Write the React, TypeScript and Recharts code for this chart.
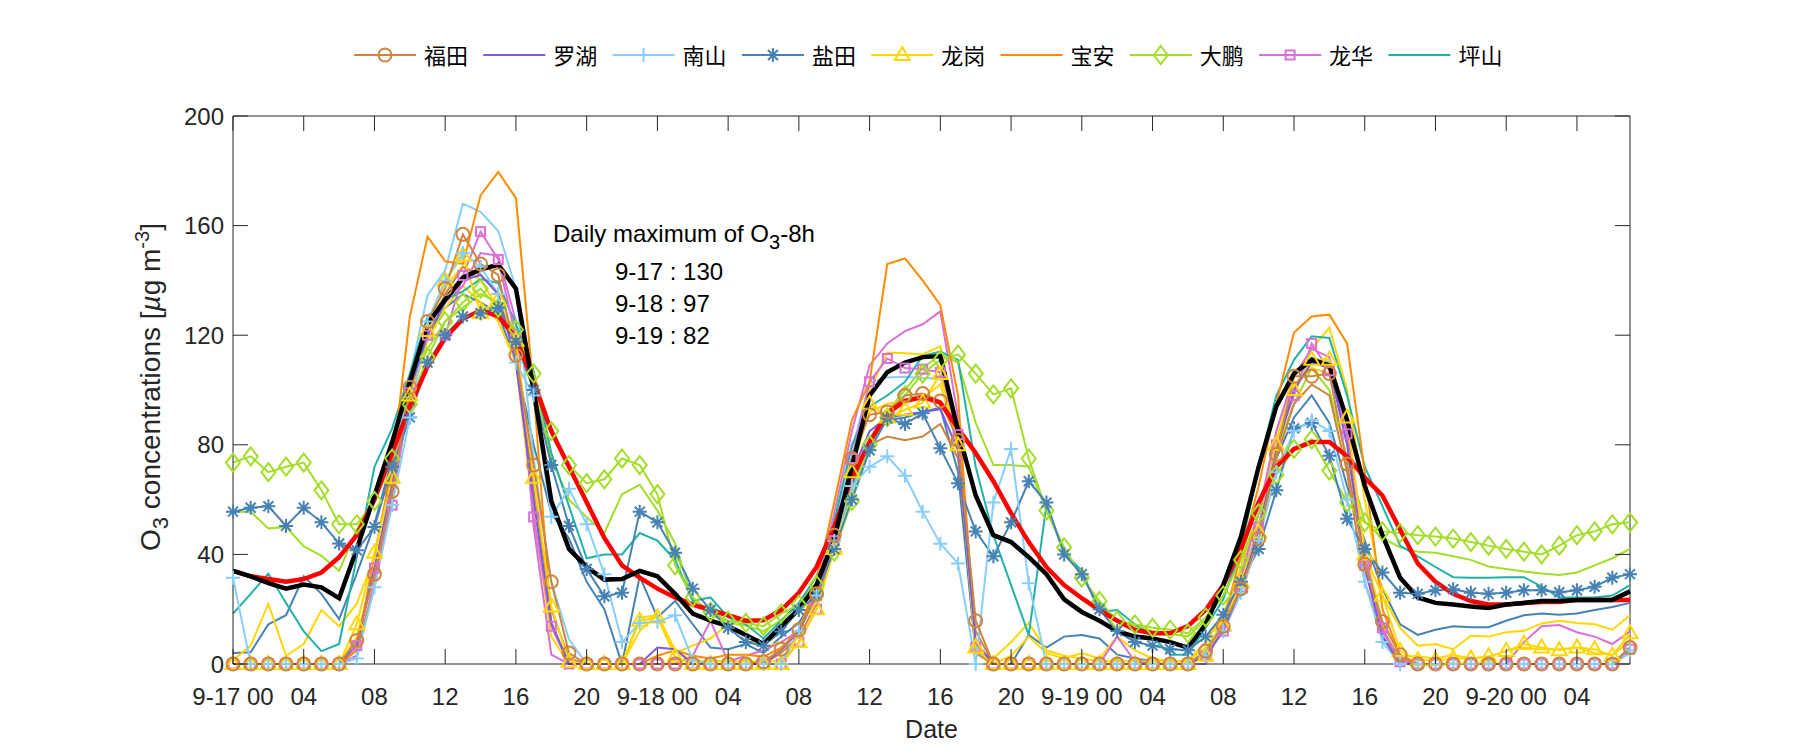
import React from 'react';
import { LineChart, Line, XAxis, YAxis, ReferenceLine } from 'recharts';

// ---------- categories ----------
const hours: number[] = Array.from({ length: 80 }, (_, i) => i);
const xTicks = [0, 4, 8, 12, 16, 20, 24, 28, 32, 36, 40, 44, 48, 52, 56, 60, 64, 68, 72, 76];
const xTickLabels = ['9-17 00', '04', '08', '12', '16', '20', '9-18 00', '04', '08', '12', '16', '20', '9-19 00', '04', '08', '12', '16', '20', '9-20 00', '04'];
const yTicks = [0, 40, 80, 120, 160, 200];

// ---------- series (µg/m3, hourly) ----------
const FT = [0,0,0,0,0,0,0,8.6,32.8,63,101,125,137,156.8,146,142,112.7,72.6,30,4,0,0,0,0,
  0,0,0,0,0,0,0.8,5.4,12.5,25.6,47,75,91,92,98,98.7,96,81.7,15.8,0,0,0,0,0,
  0,0,0,0,0,0,0,4.7,13.8,27.5,45.8,76.5,105,105,106,73,36.4,15.5,3.4,0,0,0,0,0,
  0,0,0,0,0,0,0,6];
const FT2 = [0,0,0,0,0,0,0,5,28,60,98,122,135,145,142,135,110,65,20,2,0,0,0,0,
  0,0,0,0,0,0,0,4,10,22,43,68,80,83,81.7,83,87.6,75,12,0,0,0,0,0,
  0,0,0,0,0,0,0,3,12,26,45,75,95,102,98,70,30,10,2,0,0,0,0,0,
  0,0,0,0,0,0,0,5];
const LH = [0,0,0,0,0,0,0,7,35,65,100,120,132,140,142,135,110,60,15,0,0,0,0,0,
  6,5.4,0,0,0,0,0,5,12,25,45,70,85,90,91,92,93,78,8,0,0,0,0,0,
  0,0,0,0,0,0,0,3,12,28,48,78,100,110,108,80,35,10,0,0,0,0,0,0,
  0,0,0,0,0,0,0,6];
const NS = [31.5,0,0,0,0,0,0,2,28,58,90,125,140,150,145,135,110,98,53.7,64,51,32.8,8,15,
  15.5,17.8,1.4,0,0,0,0,0,12,25,45,65,72,75.8,68.7,55.6,43.9,36.7,0,58.9,78.5,29.5,0,0,
  0,0,0,0,0,0,0,3,12,26,45,70,85,89,85,60,30,8,0,0,0,0,0,0,
  0,0,0,0,0,0,0,5];
const NS2 = [0,0,0,0,0,0,0,3,30,70,105,134.6,143.7,168,165,158,137,75,30,9,0,0,0,0,
  0,0,0,0,0,0,0,0,12,28,50,78,102.6,104.6,104.8,104.3,104.3,88,5,0,0,0,0,0,
  0,0,0,0,0,0,0,4,15,30,50,80,100,112,110,82,40,12,0,0,0,0,0,0,
  0,0,0,0,0,0,0,4];
const YT = [55.6,57,57.6,50.4,57,51.7,44,41.5,50,72,90,110,120,126.8,128,130,117.6,100,72.6,50.4,34.7,24.7,26,55.6,
  51.7,40.6,27.5,19.7,13.2,8,6.7,11.9,19.7,25,42,60,78,89.6,87.6,91.5,78.7,66,48.4,39.3,51.7,66.7,58.9,40,
  32.8,20,12,8,6.7,5.4,5,10,18,30,42,63.4,86,88,76,53,42,33.4,26,25.6,26.9,27.3,26,25.6,
  26,26.9,26.9,26.2,26.9,28.2,31.5,32.8];
const YT2 = [4,4.3,14.5,17.8,32,25.6,16.4,33,51,75,100,120,130,135,132,128,110,80,55,45.8,30,20,0,32,
  17,23,14.5,6,5.4,7.3,4,10,15,25,45,65,82,89,90,92,93.5,70,4,0,0,10.6,6,10,
  10.6,9.3,3.4,2,1,1,1,8,18,35,55,75,90,98,88,65,45,27.5,14.5,10.6,12.5,13.8,13.4,13.4,
  15.8,17.8,18.4,18,18.4,19.7,20.8,22.3];
const LG = [0,0,0,0,0,0,0,14.5,40.6,68,98,121.5,140,149,128,133,118,68,21,0.8,0,0,0,15.8,
  17,2.7,0,0,0,0,0,0,8,20,42,70,95,90,92.8,95.4,105.8,79.8,6,0,0,0,0,0,
  0,0,0,0,0,0,0,3,14,30,48,80,100,111,111,90,40,25,4.7,1.4,1.4,2,2,2.7,
  4.7,7.3,6,5,6,5.4,3,11.2];
const LG2 = [1.4,6.7,22,3,7.3,19.7,13.8,22,39,70,100,125,138,145,140,130,115,60,15,0,0,0,0,17,
  17.8,4,6.7,9.3,14.5,10,6,8,12,25,48,78,100,113.7,113.4,113,116,85,6,0,3,10,4,2,
  4,2,10,5,2,1,1,8,18,35,55,85,105,115,122.8,100,60,25,13.2,6.7,7.3,5.4,10.3,10,
  11.6,12.1,14.8,15.8,15,14.5,12.5,17.8];
const LG3 = [0,0,0,0,0,0,0,10,35,65,95,118,130,138,132,125,110,55,10,0,0,0,0,12,
  18,5,1,1,1,1,1,1,8,20,42,72,92,95,96,97,102,80,5,2,8,15,5,3,
  2,1,1,1,1,1,1,6,15,32,50,82,102,108,106,85,42,15,3,2.7,2,3.4,2,2.7,
  4.7,6,5.4,5.4,6,4,3.4,8];
const BA = [0,0,0,0,0,0,0,5,40,72,126.8,156,147,146,171,179.6,170,100,15,0,0,0,0,0,
  3,5,3,2,3.4,3.4,2.7,6,12,30,59,89,103,146,148,140,131,98,4,0,0,0,0,0,
  0,0,0,0,0,0,0,3,15,40,65,95,121,126.8,127.5,117,70,20,3,0,0,0,0,0,
  0,0,0,0,0,0,0,5];
const DP = [73.5,75.8,70,72,73.5,63.4,51,51,59.5,75,94.8,112,125,132,137,130,122,106,85,72.6,66,67.4,75,72.6,
  62,36,24.3,19,15.8,15,13.8,18.4,21.7,28.8,41,59.5,80,90,98,106,111,113,106,98.4,100.6,75,56,42.6,
  31.5,23,15.8,14.5,13.2,12.5,11.2,17,25,38,55,69,78.5,82,70.6,59,51.7,48.4,47.8,47,46.5,45.8,44.5,43.2,
  42,41,40,43.2,47,48.4,51,51.7];
const DP2 = [55.6,55.6,49.5,50,43,39.5,34,49,61,78,100,115,125,130,135,132,120,104,75,60,53.6,47.8,62,65.4,
  56,44,23,18,15,14,12,16,22,30,45,62,82,92,100,108,113,110,88,72.6,72.6,72,56,42,
  32,22,16,14,12,11,10,16,25,40,58,78,95,108,100,75,52,46,42.6,41,40.6,39.3,38,35.6,
  34.7,33.8,33,32.5,33.4,36,38.6,42];
const LHua = [0,0,0,0,0,0,0,6.7,35,58,99,120,120,141.8,157.8,147.6,119,53.7,13.8,0,0,0,0,0,
  0,0,0,0,0,0,0,0,8,20,45,75,103,111.5,108,107.6,106.5,83.7,6,0,0,0,0,0,
  0,0,0,0,0,0,0,3,12,28,50,80,98,117,107,84,36,13.2,0.8,0,0,0,0,0,
  0,0,0,0,0,0,0,5.4];
const LHua2 = [0,0,0,0,0,0,0,3,30,60,100,125,132,138,150,149,125,50,3.4,0,0,0,0,0,
  0,0,3,15.8,0.8,3,5,8,12,28,55,85,109,117,121.5,124,128.7,90,6.7,0,0,0,0,0,
  0,0,10,1,0,0,0,0,15,32,55,85,105,115,112,88,40,12,2,0,0,0,0,0,
  0,8,13.8,14.2,11.6,10,7.3,11.9];
const PS = [18.4,25.6,33,22.3,11.9,4.7,7.3,39,72,86,106,126.8,133,136,140.5,139,124,107,77,57.6,38.6,40,40,47.8,
  45,38,23,24.3,17,14.5,9.3,15.8,22.3,32,52,80,94,98,103,112.4,114,111,72,47,28.8,10.6,58,40.6,
  34,19,19.7,14.5,10,3.4,3.4,13.2,23.6,42,72,98,111,119.6,119,98,72,57.6,43.2,39.3,35.4,31.7,31.5,31.5,
  31.7,31.7,28.2,24.3,24.3,24.3,25,28.8];
const MEAN = [34,32,29.5,27.5,29,28,24,42,61.5,81,103,124,133,141,144,145.7,137,100,59.5,42,35.4,30.8,31,34,
  32,25.6,18.4,15.8,13.8,10.6,7.3,13.8,20,28.8,45.8,72,98,106.5,110,112,112.4,85,61.5,47,44.5,39,32.8,23.6,
  19,15.8,12,10,9.3,8,6,14.5,28.8,46.5,72,94,106,111,109,89,65,47,31.5,24.3,22.3,21.7,21,20.4,
  21.7,22.3,23,23,23.4,23.4,23.4,26.5];
const SMOOTH = [34,32,31,30,31,33.4,39,47,60,77,94,108.5,119,126,129,127,119,103,85,72,59,46,36,31.5,
  27.5,24.3,21.7,19.7,17.8,15.8,16,19.7,26,35.4,50,68,81,91.5,96,97.4,95.4,86,77,66.7,55,44.5,35.4,28.8,
  24,19.7,15.8,12.5,11.2,11.2,13.8,19.7,28.8,42,59,72,78.5,81,81,75.8,68,61.5,49,36.7,30,25.6,23,21.7,
  21.7,22.3,22.6,22.6,23.4,23.4,23.4,23.4];

const annotationLines = ['9-17 : 130', '9-18 : 97', '9-19 : 82'];

// ---------- styles ----------
const FONT = '"Liberation Sans", Arial, sans-serif';
const CJK = '"Noto Sans CJK SC", sans-serif';
const AX = '#262626';
const W = 1784, H = 734, OVER_H = 742;
const M = { top: 108, right: 162, bottom: 38, left: 165 };
const YW = 60, XH = 40;
const PL = M.left + YW, PR = W - M.right, PT = M.top, PB = H - M.bottom - XH;
const TICK = 15;

type Shape = 'circle' | 'plus' | 'star' | 'tri' | 'diamond' | 'square' | 'none';

const COLORS = {
  FT: '#CD853F', LH: '#7A5CE0', NS: '#87CEFA', YT: '#4682B4', LG: '#FFD700',
  BA: '#FF8C00', DP: '#A2DE28', LHua: '#DA70D6', PS: '#20B2AA',
};

const legendItems: { name: string; color: string; shape: Shape }[] = [
  { name: '福田', color: COLORS.FT, shape: 'circle' },
  { name: '罗湖', color: COLORS.LH, shape: 'none' },
  { name: '南山', color: COLORS.NS, shape: 'plus' },
  { name: '盐田', color: COLORS.YT, shape: 'star' },
  { name: '龙岗', color: COLORS.LG, shape: 'tri' },
  { name: '宝安', color: COLORS.BA, shape: 'none' },
  { name: '大鹏', color: COLORS.DP, shape: 'diamond' },
  { name: '龙华', color: COLORS.LHua, shape: 'square' },
  { name: '坪山', color: COLORS.PS, shape: 'none' },
];

function marker(shape: Shape, cx: number, cy: number, color: string, key?: any) {
  const sw = 2;
  switch (shape) {
    case 'circle':
      return <circle key={key} cx={cx} cy={cy} r={6.5} fill="none" stroke={color} strokeWidth={sw} />;
    case 'plus':
      return <path key={key} d={`M${cx - 7},${cy}H${cx + 7}M${cx},${cy - 7}V${cy + 7}`} stroke={color} strokeWidth={sw} fill="none" />;
    case 'star': {
      const r = 7, d = 5;
      return <path key={key} d={`M${cx - r},${cy}H${cx + r}M${cx},${cy - r}V${cy + r}M${cx - d},${cy - d}L${cx + d},${cy + d}M${cx - d},${cy + d}L${cx + d},${cy - d}`} stroke={color} strokeWidth={sw} fill="none" />;
    }
    case 'tri':
      return <path key={key} d={`M${cx},${cy - 8}L${cx + 7.5},${cy + 5}L${cx - 7.5},${cy + 5}Z`} stroke={color} strokeWidth={sw} fill="none" />;
    case 'diamond':
      return <path key={key} d={`M${cx},${cy - 9}L${cx + 7},${cy}L${cx},${cy + 9}L${cx - 7},${cy}Z`} stroke={color} strokeWidth={sw} fill="none" />;
    case 'square':
      return <rect key={key} x={cx - 4.5} y={cy - 4.5} width={9} height={9} stroke={color} strokeWidth={sw} fill="none" />;
    default:
      return <g key={key} />;
  }
}

const mkDot = (shape: Shape, color: string) => (p: any) => {
  const { cx, cy, index } = p;
  if (cx == null || cy == null) return <g key={`d${index}`} />;
  return marker(shape, cx, cy, color, `d${index}`);
};

const rows = hours.map((h, i) => ({
  h,
  FT: FT[i], FT2: FT2[i], LH: LH[i], NS: NS[i], NS2: NS2[i], YT: YT[i], YT2: YT2[i],
  LG: LG[i], LG2: LG2[i], LG3: LG3[i], BA: BA[i], DP: DP[i], DP2: DP2[i],
  LHua: LHua[i], LHua2: LHua2[i], PS: PS[i], MEAN: MEAN[i], SMOOTH: SMOOTH[i],
}));

const series: { key: string; color: string; shape: Shape; width: number }[] = [
  { key: 'DP2', color: COLORS.DP, shape: 'none', width: 2 },
  { key: 'YT2', color: COLORS.YT, shape: 'none', width: 2 },
  { key: 'LG2', color: COLORS.LG, shape: 'none', width: 2 },
  { key: 'LG3', color: COLORS.LG, shape: 'none', width: 2 },
  { key: 'NS2', color: COLORS.NS, shape: 'none', width: 2 },
  { key: 'LHua2', color: COLORS.LHua, shape: 'none', width: 2 },
  { key: 'FT2', color: COLORS.FT, shape: 'none', width: 2 },
  { key: 'PS', color: COLORS.PS, shape: 'none', width: 2 },
  { key: 'LHua', color: COLORS.LHua, shape: 'square', width: 2 },
  { key: 'DP', color: COLORS.DP, shape: 'diamond', width: 2 },
  { key: 'BA', color: COLORS.BA, shape: 'none', width: 2 },
  { key: 'LG', color: COLORS.LG, shape: 'tri', width: 2 },
  { key: 'YT', color: COLORS.YT, shape: 'star', width: 2 },
  { key: 'NS', color: COLORS.NS, shape: 'plus', width: 2 },
  { key: 'LH', color: COLORS.LH, shape: 'none', width: 2 },
  { key: 'FT', color: COLORS.FT, shape: 'circle', width: 2 },
  { key: 'SMOOTH', color: '#FF0000', shape: 'none', width: 4.5 },
  { key: 'MEAN', color: '#000000', shape: 'none', width: 4.5 },
];

const XTick = (p: any) => {
  const { x, payload } = p;
  const idx = xTicks.indexOf(payload.value);
  return (
    <g>
      <line x1={x} x2={x} y1={PB} y2={PB - TICK} stroke={AX} strokeWidth={1} />
      <line x1={x} x2={x} y1={PT} y2={PT + TICK} stroke={AX} strokeWidth={1} />
      <text x={x} y={PB + 41} textAnchor="middle" fontFamily={FONT} fontSize={24} fill={AX}>
        {xTickLabels[idx]}
      </text>
    </g>
  );
};

const YTick = (p: any) => {
  const { y, payload } = p;
  return (
    <g>
      <line x1={PL} x2={PL + TICK} y1={y} y2={y} stroke={AX} strokeWidth={1} />
      <line x1={PR} x2={PR - TICK} y1={y} y2={y} stroke={AX} strokeWidth={1} />
      <text x={PL - 9} y={y + 8.5} textAnchor="end" fontFamily={FONT} fontSize={24} fill={AX}>
        {payload.value}
      </text>
    </g>
  );
};

export default function App() {
  const legX0 = 346, legPitch = 129.3, legY = 47;
  return (
    <div style={{ position: 'relative', width: W, height: OVER_H, background: '#fff' }}>
      <LineChart width={W} height={H} data={rows} margin={M}>
        <XAxis dataKey="h" type="number" domain={[0, 79]} ticks={xTicks} interval={0}
          tick={XTick} tickLine={false} tickSize={0} tickMargin={0} height={XH}
          axisLine={{ stroke: AX, strokeWidth: 1 }} />
        <YAxis type="number" domain={[0, 200]} ticks={yTicks} interval={0}
          tick={YTick} tickLine={false} tickSize={0} tickMargin={0} width={YW}
          axisLine={{ stroke: AX, strokeWidth: 1 }} />
        <ReferenceLine y={200} stroke={AX} strokeWidth={1} />
        <ReferenceLine x={79} stroke={AX} strokeWidth={1} />
        {series.map((s) => (
          <Line key={s.key} dataKey={s.key} type="linear" stroke={s.color} strokeWidth={s.width}
            dot={s.shape === 'none' ? false : mkDot(s.shape, s.color)} activeDot={false}
            isAnimationActive={false} legendType="none" />
        ))}
      </LineChart>
      <svg width={W} height={OVER_H} style={{ position: 'absolute', left: 0, top: 0, pointerEvents: 'none' }}>
        {legendItems.map((it, i) => {
          const x = legX0 + i * legPitch;
          return (
            <g key={it.name}>
              <line x1={x} x2={x + 62} y1={legY} y2={legY} stroke={it.color} strokeWidth={2} />
              {marker(it.shape, x + 31, legY, it.color)}
              <text x={x + 70} y={legY + 8.5} fontFamily={CJK} fontSize={22} fill="#000">{it.name}</text>
            </g>
          );
        })}
        <text x={545} y={234} fontFamily={FONT} fontSize={24} fill="#000">
          Daily maximum of O<tspan dy={7} fontSize={20}>3</tspan><tspan dy={-7}>-8h</tspan>
        </text>
        {annotationLines.map((t, i) => (
          <text key={t} x={607} y={272 + i * 32} fontFamily={FONT} fontSize={24} fill="#000">{t}</text>
        ))}
        <text transform={`translate(${152},${(PT + PB) / 2 - 3}) rotate(-90)`} textAnchor="middle"
          fontFamily={FONT} fontSize={28} fill={AX}>
          O<tspan dy={8} fontSize={22}>3</tspan><tspan dy={-8}> concentrations [</tspan>
          <tspan fontStyle="italic">µ</tspan><tspan>g m</tspan>
          <tspan dy={-11} fontSize={20}>-3</tspan><tspan dy={11}>]</tspan>
        </text>
        <text x={(PL + PR) / 2} y={730} textAnchor="middle" fontFamily={FONT} fontSize={25} fill={AX}>Date</text>
      </svg>
    </div>
  );
}
